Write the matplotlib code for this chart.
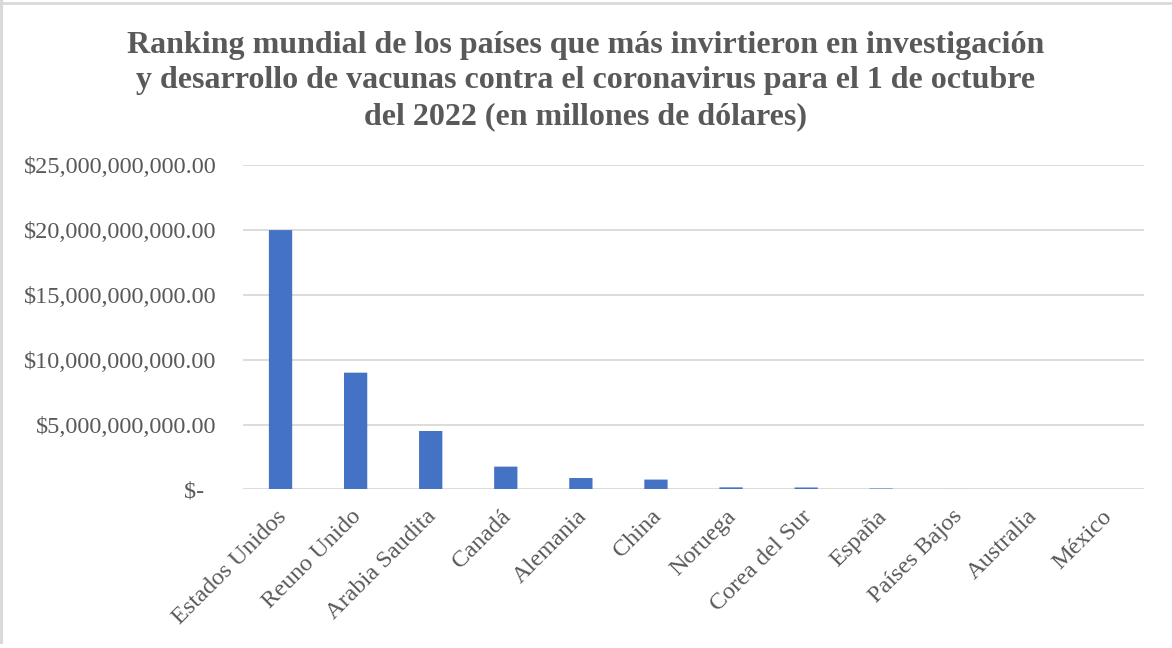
import matplotlib
matplotlib.use("Agg")
import matplotlib.pyplot as plt
import matplotlib.transforms as mtransforms
from matplotlib.lines import Line2D
from matplotlib.ticker import FuncFormatter

# Inversión en I+D de vacunas contra el coronavirus (dólares)
paises = ["Estados Unidos", "Reuno Unido", "Arabia Saudita", "Canadá", "Alemania",
          "China", "Noruega", "Corea del Sur", "España", "Países Bajos",
          "Australia", "México"]
inversion = [20.0e9, 9.0e9, 4.5e9, 1.75e9, 0.87e9, 0.75e9,
             0.15e9, 0.14e9, 0.06e9, 0.025e9, 0.006e9, 0.003e9]
ticks_y = [0, 5e9, 10e9, 15e9, 20e9, 25e9]

titulo = ("Ranking mundial de los países que más invirtieron en investigación\n"
          "y desarrollo de vacunas contra el coronavirus para el 1 de octubre\n"
          "del 2022 (en millones de dólares)")

TEXTO = "#595959"
AZUL = "#4472C4"
GRID = "#D9D9D9"

plt.rcParams["font.family"] = ["Liberation Serif", "DejaVu Serif"]

W, H = 1172, 648
fig = plt.figure(figsize=(W / 100, H / 100), dpi=100)
fig.patch.set_facecolor("white")

# marco exterior (bordes superior e izquierdo)
fig.add_artist(Line2D([0, 1], [1 - 2.5 / H, 1 - 2.5 / H], transform=fig.transFigure,
                      color=GRID, lw=2))
fig.add_artist(Line2D([1.2 / W, 1.2 / W], [1 - 642 / H, 1], transform=fig.transFigure,
                      color=GRID, lw=2.2))

left, right = 243 / W, 1144 / W
top, bottom = 1 - 165.3 / H, 1 - 489.3 / H
ax = fig.add_axes([left, bottom, right - left, top - bottom])

x = list(range(len(paises)))
barras = ax.bar(x, inversion, width=0.31, color=AZUL, zorder=3)
for b in barras:
    b.set_snap(False)

ax.set_xlim(-0.5, len(paises) - 0.5)
ax.set_ylim(0, 25e9)
ax.set_yticks(ticks_y)


def moneda(v, pos):
    if v == 0:
        return "$-  "
    return "${:,.2f}".format(v)


ax.yaxis.set_major_formatter(FuncFormatter(moneda))
ax.grid(axis="y", color=GRID, lw=1.3, zorder=0)
for s in ax.spines.values():
    s.set_visible(False)
ax.tick_params(axis="both", length=0, colors=TEXTO, labelsize=17.5)
ax.tick_params(axis="y", pad=19)

ax.set_xticks(x)
ax.set_xticklabels(paises, rotation=45, ha="right", rotation_mode="anchor")
ax.tick_params(axis="x", pad=12)
desplaza = mtransforms.ScaledTranslation(-5 / 100, 0, fig.dpi_scale_trans)
for lbl in ax.get_xticklabels():
    lbl.set_transform(lbl.get_transform() + desplaza)

fig.text(0.5, 1 - 31 / H, titulo, ha="center", va="top", fontsize=23,
         fontweight="bold", color=TEXTO, linespacing=1.29)

fig.savefig("out.png", dpi=100, facecolor="white")
